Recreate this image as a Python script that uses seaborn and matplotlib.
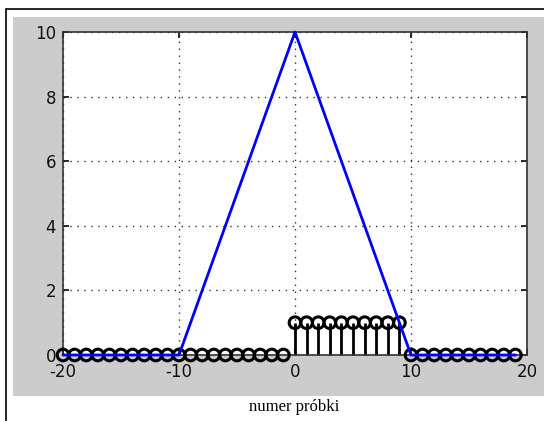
import matplotlib
matplotlib.use("Agg")
import matplotlib.pyplot as plt
import seaborn as sns
import numpy as np
import pandas as pd
from matplotlib.patches import Rectangle

n = list(range(-20, 20))
triangle = [0]*10 + [0,1,2,3,4,5,6,7,8,9] + [10,9,8,7,6,5,4,3,2,1] + [0]*10
pulse = [0]*20 + [1]*10 + [0]*10
xticks = [-20, -10, 0, 10, 20]
yticks = [0, 2, 4, 6, 8, 10]
xlabel = "numer próbki"

df = pd.DataFrame({"n": n, "tri": triangle, "pulse": pulse})

sns.set_theme(style="white")
plt.rcParams['font.family'] = ['DejaVu Sans']

W, H = 544, 421
fig = plt.figure(figsize=(W/100, H/100), dpi=100)
fig.patch.set_facecolor("white")

# outer border and gray panel
fig.add_artist(Rectangle((6/W, -0.01), 1.02, (H-9)/H + 0.01, transform=fig.transFigure,
                         facecolor="none", edgecolor="black", lw=1.2, zorder=0))
fig.add_artist(Rectangle((13/W, 1-396/H), 1.0, (396-17)/H, transform=fig.transFigure,
                         facecolor="#cccccc", edgecolor="none", zorder=0))

ax = fig.add_axes([63/W, 1-355/H, (527-63)/W, (355-32)/H])
ax.set_facecolor("white")

# stems
for xi, yi in zip(df["n"], df["pulse"]):
    if yi != 0:
        ax.vlines(xi, 0, yi, color="black", lw=2, zorder=2)
sc = sns.scatterplot(data=df, x="n", y="pulse", ax=ax, marker="o", s=70,
                     facecolor="none", edgecolor="black", linewidth=2.2, zorder=3, legend=False)
for coll in ax.collections:
    coll.set_clip_on(False)
sns.lineplot(data=df, x="n", y="tri", ax=ax, color="#0000ff", lw=2, zorder=4, legend=False)
for ln in ax.lines:
    ln.set_clip_on(False)

ax.set_xlim(-20, 20)
ax.set_ylim(0, 10)
ax.set_xticks(xticks)
ax.set_yticks(yticks)
ax.set_xticklabels([str(t) for t in xticks])
ax.set_yticklabels([str(t) for t in yticks])
ax.grid(True, linestyle=(0, (1, 4)), color="#333333", lw=1)
for s in ax.spines.values():
    s.set_color("#333333")
    s.set_linewidth(1.2)
ax.tick_params(axis="both", which="both", labelsize=12, colors="#111111", length=4,
               direction="in", left=True, bottom=True, top=True, right=True)
ax.tick_params(axis="x", pad=6)
ax.tick_params(axis="y", pad=5)
ax.set_xlabel("")
ax.set_ylabel("")

fig.text(294/W, 1-407/H, xlabel, ha="center", va="center", fontsize=12,
         family=["Liberation Serif", "DejaVu Serif"], color="black")

fig.savefig("out.png", dpi=100)
